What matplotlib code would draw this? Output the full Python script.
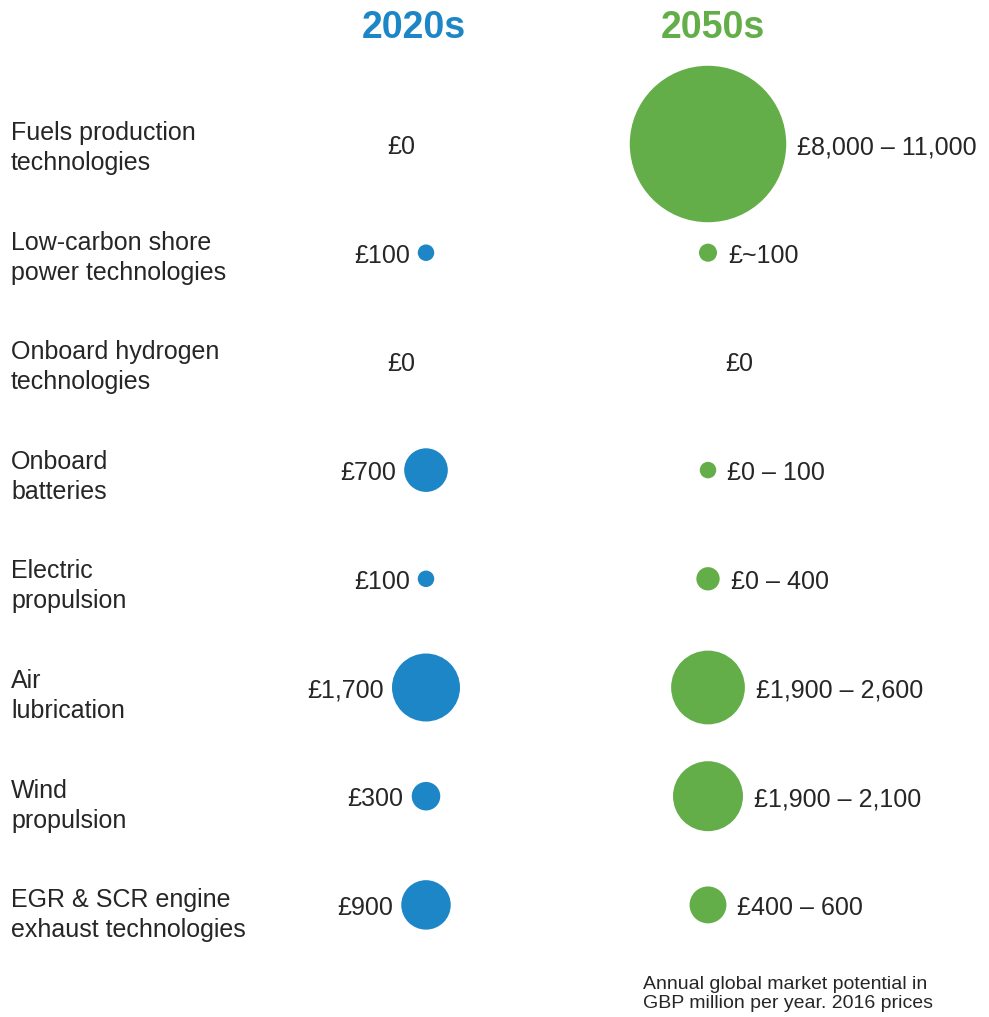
import matplotlib
matplotlib.use("Agg")
import matplotlib.pyplot as plt
import numpy as np

############## DATA ##############
categories = [
    "Fuels production\ntechnologies",
    "Low-carbon shore\npower technologies",
    "Onboard hydrogen\ntechnologies",
    "Onboard\nbatteries",
    "Electric\npropulsion",
    "Air\nlubrication",
    "Wind\npropulsion",
    "EGR & SCR engine\nexhaust technologies",
]

# GBP million per year, 2016 prices
value_2020 = [0, 100, 0, 700, 100, 1700, 300, 900]
label_2020 = ["£0", "£100", "£0", "£700", "£100", "£1,700", "£300", "£900"]

# circle size (ranges are drawn near their middle)
value_2050 = [9000, 120, 0, 100, 200, 2000, 1800, 500]
label_2050 = ["£8,000 – 11,000", "£~100", "£0", "£0 – 100", "£0 – 400",
              "£1,900 – 2,600", "£1,900 – 2,100", "£400 – 600"]

############## STYLE ##############
BLUE = "#1d86c6"
GREEN = "#63ae48"
TXT = "#262626"
plt.rcParams['font.family'] = ['Liberation Sans', 'DejaVu Sans']

W, H = 989, 1017
fig = plt.figure(figsize=(W / 100, H / 100), dpi=100)
ax = fig.add_axes([0, 0, 1, 1])
ax.axis('off')

# pixel layout: column 0 at x=426, column 1 at x=708, rows from y=144 step 108.7
x0, dx = 426, 282
y0, dy = 144, 108.7
ax.set_xlim(-x0 / dx, (W - x0) / dx)
ax.set_ylim((H - y0) / dy, -y0 / dy)

rows = np.arange(len(categories))
k = 1.41  # points^2 per GBP million


def radius_px(v):
    return np.sqrt(k * v) / 2 * 100 / 72


ax.scatter(np.zeros(len(rows)), rows, s=k * np.array(value_2020), color=BLUE, linewidths=0)
ax.scatter(np.ones(len(rows)), rows, s=k * np.array(value_2050), color=GREEN, linewidths=0)

fs = 18
for i in rows:
    # 2020s labels to the left of the circle
    v = value_2020[i]
    if v == 0:
        ax.annotate(label_2020[i], (0, i), xytext=(-25, -3), textcoords='offset pixels',
                    ha='center', va='center', fontsize=fs, color=TXT)
    else:
        ax.annotate(label_2020[i], (0, i), xytext=(-(radius_px(v) + 8), -3),
                    textcoords='offset pixels', ha='right', va='center',
                    fontsize=fs, color=TXT)
    # 2050s labels to the right
    v = value_2050[i]
    if v == 0:
        ax.annotate(label_2050[i], (1, i), xytext=(31, -3), textcoords='offset pixels',
                    ha='center', va='center', fontsize=fs, color=TXT)
    else:
        ax.annotate(label_2050[i], (1, i), xytext=(radius_px(v) + 11, -3),
                    textcoords='offset pixels', ha='left', va='center',
                    fontsize=fs, color=TXT)
    # category names
    ax.annotate(categories[i], (0, i), xytext=(11 - x0, -(4 + i * 0.9)),
                textcoords='offset pixels', ha='left', va='center',
                fontsize=fs, color=TXT, linespacing=1.32)

# column headings
ax.text(-12 / dx, -116 / dy, "2020s", ha='center', va='center', fontsize=27,
        fontweight='bold', color=BLUE)
ax.text(1 + 5 / dx, -116 / dy, "2050s", ha='center', va='center', fontsize=27,
        fontweight='bold', color=GREEN)

fig.text(643 / W, 1 - 976 / H, "Annual global market potential in\nGBP million per year. 2016 prices",
         ha='left', va='top', fontsize=14, color=TXT, linespacing=1.18)

fig.savefig("out.png", dpi=100)
